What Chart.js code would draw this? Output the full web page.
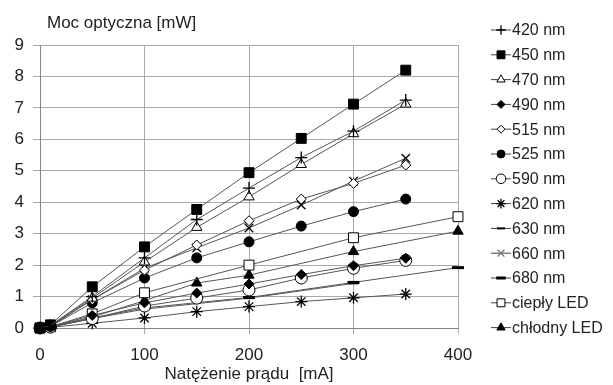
<!DOCTYPE html>
<html>
<head>
<meta charset="utf-8">
<script src="https://cdn.jsdelivr.net/npm/chart.js@4"></script>
<style>
  body { margin: 0; background: #fff; }
  #wrap { width: 613px; height: 385px; position: relative; }
</style>
</head>
<body>
<div id="wrap"><canvas id="chart"></canvas></div>
<script>
const currents = [0, 10, 50, 100, 150, 200, 250, 300, 350, 400];
const xTicks = [0, 100, 200, 300, 400];
const yTicks = [0, 1, 2, 3, 4, 5, 6, 7, 8, 9];
const seriesNames = ['420 nm', '450 nm', '470 nm', '490 nm', '515 nm', '525 nm', '590 nm',
    '620 nm', '630 nm', '660 nm', '680 nm', 'ciepły LED', 'chłodny LED'];

const s420 = [0, 0.08, 1.0, 2.23, 3.45, 4.45, 5.42, 6.26, 7.25, null];
const s450 = [0, 0.10, 1.31, 2.58, 3.77, 4.94, 6.03, 7.12, 8.2, null];
const s470 = [0, 0.08, 0.95, 2.1, 3.2, 4.17, 5.2, 6.18, 7.12, null];
const s490 = [0, 0.04, 0.4, 0.8, 1.11, 1.4, 1.7, 1.98, 2.22, null];
const s515 = [0, 0.06, 0.9, 1.84, 2.64, 3.41, 4.1, 4.6, 5.18, null];
const s525 = [0, 0.05, 0.8, 1.59, 2.23, 2.74, 3.24, 3.7, 4.1, null];
const s590 = [0, 0.03, 0.3, 0.7, 0.95, 1.21, 1.59, 1.9, 2.15, null];
const s620 = [0, 0.02, 0.15, 0.32, 0.52, 0.68, 0.84, 0.96, 1.08, null];
const s630 = [0, 0.03, 0.3, 0.6, null, 0.95, null, 1.42, null, null];
const s660 = [0, 0.06, 0.9, 1.9, 2.55, 3.18, 3.91, 4.67, 5.4, null];
const s680 = [0, 0.03, 0.32, 0.64, null, 0.97, null, 1.45, null, 1.92];
const sWarm = [0, 0.04, 0.45, 1.12, null, 2.0, null, 2.87, null, 3.54];
const sCold = [0, 0.03, 0.35, 0.87, 1.43, 1.68, null, 2.43, null, 3.08];

const allSeries = [s420, s450, s470, s490, s515, s525, s590, s620, s630, s660, s680, sWarm, sCold];

// marker look per series: style, radius, filled, border width
const markers = [
    ['cross', 6, true, 1.3],
    ['rect', 7, true, 1],
    ['triangle', 6, false, 1],
    ['rectRot', 5, true, 1],
    ['rectRot', 5, false, 1],
    ['circle', 5, true, 1],
    ['circle', 6, false, 1],
    ['star', 6, true, 1.3],
    ['line', 5, true, 2],
    ['crossRot', 6, true, 1.3],
    ['line', 6, true, 3],
    ['rect', 7, false, 1],
    ['triangle', 6, true, 1]
];

function toPoints(vals) {
    const pts = [];
    vals.forEach((v, i) => { if (v !== null) pts.push({ x: currents[i], y: v }); });
    return pts;
}

const datasets = allSeries.map((vals, i) => {
    const m = markers[i];
    return {
        label: seriesNames[i],
        data: toPoints(vals),
        borderColor: '#555',
        borderWidth: 1,
        pointStyle: m[0],
        pointRadius: m[1],
        pointBackgroundColor: m[2] ? '#000' : '#fff',
        pointBorderColor: '#000',
        pointBorderWidth: m[3],
        clip: false
    };
});

// legend on the right: short line + marker, then text
const sideLegend = {
    id: 'sideLegend',
    afterDraw(chart) {
        const ctx = chart.ctx;
        ctx.save();
        chart.data.datasets.forEach((ds, i) => {
            const y = 30 + i * 24.8;
            ctx.strokeStyle = '#444';
            ctx.lineWidth = 1;
            ctx.beginPath();
            ctx.moveTo(491, y);
            ctx.lineTo(511, y);
            ctx.stroke();
            ctx.fillStyle = ds.pointBackgroundColor;
            ctx.strokeStyle = i === 9 ? '#777' : '#000';
            ctx.lineWidth = ds.pointBorderWidth;
            Chart.helpers.drawPoint(ctx, {
                pointStyle: ds.pointStyle,
                radius: ds.pointRadius * 0.8,
                rotation: 0,
                borderWidth: ds.pointBorderWidth
            }, 501, y);
            ctx.fillStyle = '#222';
            ctx.font = '16px "Liberation Sans", Arial, sans-serif';
            ctx.textBaseline = 'middle';
            ctx.textAlign = 'left';
            ctx.fillText(ds.label, 512, y + 1);
        });
        ctx.font = '17px "Liberation Sans", Arial, sans-serif';
        ctx.fillText('Moc optyczna [mW]', 47, 23);
        ctx.restore();
    }
};

new Chart(document.getElementById('chart'), {
    type: 'line',
    data: { datasets },
    options: {
        responsive: true,
        maintainAspectRatio: false,
        animation: false,
        spanGaps: true,
        layout: { padding: { top: 45, right: 155, left: 0, bottom: 0 } },
        plugins: { legend: { display: false }, tooltip: { enabled: false } },
        scales: {
            x: {
                type: 'linear',
                min: 0,
                max: 400,
                afterFit(scale) { scale.height = 57; },
                afterBuildTicks(scale) { scale.ticks = xTicks.map(v => ({ value: v })); },
                grid: { color: '#a8a8a8', tickLength: 6 },
                border: { color: '#888' },
                ticks: { color: '#222', padding: 11, font: { size: 17, family: '"Liberation Sans", Arial' } },
                title: {
                    display: true,
                    text: 'Natężenie prądu  [mA]',
                    color: '#222',
                    font: { size: 17, family: '"Liberation Sans", Arial' },
                    padding: { top: 0, bottom: 0 }
                }
            },
            y: {
                min: 0,
                max: 9,
                afterFit(scale) { scale.width = 40; },
                afterBuildTicks(scale) { scale.ticks = yTicks.map(v => ({ value: v })); },
                grid: { color: '#a8a8a8', tickLength: 7 },
                border: { color: '#888' },
                ticks: { color: '#222', padding: 9, font: { size: 17, family: '"Liberation Sans", Arial' } }
            }
        }
    },
    plugins: [sideLegend]
});
</script>
</body>
</html>
